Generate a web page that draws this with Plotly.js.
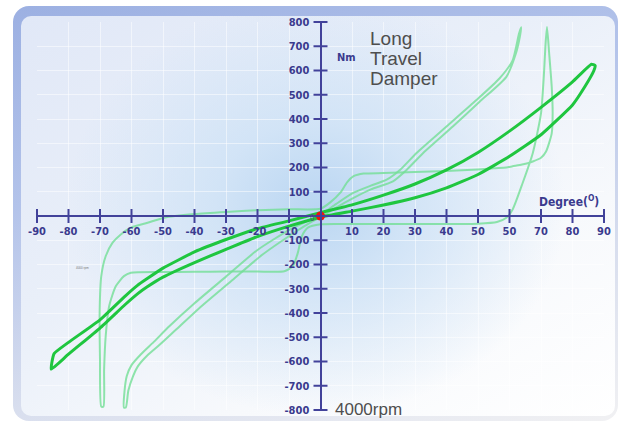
<!DOCTYPE html>
<html>
<head>
<meta charset="utf-8">
<script src="https://cdn.plot.ly/plotly-3.0.1.min.js"></script>
<style>
html,body{margin:0;padding:0;background:#ffffff;width:620px;height:423px;overflow:hidden;}
#frame{position:absolute;left:13px;top:6px;width:605px;height:415px;border-radius:16px;
 background:linear-gradient(165deg,#9cb0e2 0%,#b3c3ea 35%,#d8deee 70%,#f1f1f3 100%);}
#inner{position:absolute;left:21px;top:16px;width:594px;height:400px;border-radius:10px;
 background:
  radial-gradient(ellipse 250px 210px at 295px 190px, rgba(186,214,242,1) 0%, rgba(206,226,246,0.85) 40%, rgba(230,239,250,0) 100%),
  linear-gradient(150deg,#e1e8f7 0%,#e9eff9 40%,#f7f9fc 70%,#ffffff 100%);}
#chart{position:absolute;left:0;top:0;width:620px;height:423px;}
</style>
</head>
<body>
<div id="frame"></div>
<div id="inner"></div>
<div id="chart"></div>
<script>
// ---- tick labels ----
const xTickVals = [-90,-80,-70,-60,-50,-40,-30,-20,-10,10,20,30,40,50,60,70,80,90];
const xTickText = ['-90','-80','-70','-60','-50','-40','-30','-20','-10','10','20','30','40','50','50','70','80','90'];
const yTickVals = [-800,-700,-600,-500,-400,-300,-200,-100,100,200,300,400,500,600,700,800];
const yTickText = ['-800','-700','-600','-500','-400','-300','-200','-100','100','200','300','400','500','600','700','800'];

// ---- Curved Spring (hysteresis loop), degrees / Nm ----
const springDeg = [-85.5,-80,-70,-62,-58,-55,-50,-40,-30,-20,-10,0,10,20,30,40,50,60,70,80,84,86.8,87.2,86,80,70,60,50,40,30,20,10,0,-10,-20,-30,-40,-50,-55,-58,-62,-70,-80,-84.6,-85.5];
const springNm  = [-632,-570,-462,-365,-320,-292,-252,-192,-138,-85,-42,-5,20,45,75,116,171,246,335,458,535,600,620,626,553,448,350,262,190,132,86,46,14,-20,-52,-97,-148,-215,-258,-285,-330,-428,-521,-568,-632];

// ---- Long Travel Damper: steep loop ----
const damperDeg = [-62.4,-62.2,-61.5,-60,-57,-53,-48,-40,-30,-20,-10,-4,0,5,10.5,16,21,25.3,30.5,40,49.5,56.8,61,63,63.7,63.3,62,59,50.5,42,32.6,27.4,23,16,10.5,5,0,-3,-8.5,-18.5,-28.5,-38.5,-46,-51,-55,-58,-59.5,-61,-61.8,-62.4];
const damperNm  = [-790,-720,-660,-615,-570,-520,-455,-360,-250,-140,-58,-20,5,50,96,125,150,191,260,369,478,567,642,751,778,740,669,574,471,369,260,191,143,110,75,35,-5,-25,-70,-160,-270,-380,-470,-530,-575,-620,-660,-720,-790,-790];

// ---- Long Travel Damper: plateau loop with spikes ----
const plateauDeg = [-69.6,-70,-70.1,-69.6,-68.2,-66,-63.4,-60.2,-54.9,-49.6,-40,-30,-20,-10,0,3,6.3,8.5,10.5,13.7,20,30,40,50,55,59,61,64,67.4,70,71.6,73.4,73.7,73.4,72.6,71.9,71.4,71,70,67.4,64.2,61,59,56,50,40,30,20,10,0,-4,-5.9,-7.2,-8.8,-11.5,-20,-30,-40,-50,-60.2,-62.4,-65,-67.1,-68.2,-68.7,-68.9,-69.6];
const plateauNm  = [-786,-593,-386,-248,-166,-110,-76,-48,-28,-7,8,17,24,28,30,55,96,140,164,175,177,181,186,192,197,200,205,212,225,240,266,341,423,533,669,779,700,601,423,260,137,27,-7,-25,-32,-33,-33,-33,-33,-34,-48,-83,-152,-207,-228,-229,-229,-230,-231,-234,-248,-290,-372,-497,-634,-786,-786];

const originDeg = [0];
const originNm = [0];

const NAVY = '#42429a';
const LABEL = '#3a3a8e';
const GRAY = '#4e4e4e';
const tickFont = {family:'"Liberation Sans Narrow","DejaVu Sans Condensed","Arial Narrow",sans-serif', size:11, color:LABEL, weight:'bold'};
const textFam = '"Liberation Sans",Arial,sans-serif';
const thin = 'rgba(115,222,150,0.8)';

const traces = [
  {x:damperDeg, y:damperNm, mode:'lines', line:{color:thin, width:2, shape:'spline', smoothing:0.6}, hoverinfo:'skip'},
  {x:plateauDeg, y:plateauNm, mode:'lines', line:{color:thin, width:2, shape:'spline', smoothing:0.6}, hoverinfo:'skip'},
  {x:springDeg, y:springNm, mode:'lines', line:{color:'#1fc63f', width:3, shape:'spline', smoothing:0.4}, hoverinfo:'skip'},
  {x:xTickVals, y:xTickVals.map(()=>0), mode:'markers', marker:{symbol:'line-ns', size:10, line:{width:2,color:NAVY}}, cliponaxis:false, hoverinfo:'skip'},
  {x:yTickVals.map(()=>0), y:yTickVals, mode:'markers', marker:{symbol:'line-ew', size:10, line:{width:2,color:NAVY}}, cliponaxis:false, hoverinfo:'skip'},
  {x:originDeg, y:originNm, mode:'markers', marker:{color:'#ee1111', size:9, line:{width:0}}, cliponaxis:false, hoverinfo:'skip'}
];

const layout = {
  width:620, height:423,
  margin:{l:37, r:16, t:22, b:13, pad:0},
  paper_bgcolor:'rgba(0,0,0,0)', plot_bgcolor:'rgba(0,0,0,0)',
  showlegend:false,
  xaxis:{range:[-90,90], anchor:'free', position:0.5, showline:true, linecolor:NAVY, linewidth:2,
    tickmode:'array', tickvals:xTickVals, ticktext:xTickText, ticks:'', ticklabelstandoff:5,
    showgrid:true, gridcolor:'rgba(255,255,255,0.5)', gridwidth:1, zeroline:false, tickfont:tickFont, fixedrange:true},
  yaxis:{range:[-800,800], anchor:'free', position:0.5, side:'left', showline:true, linecolor:NAVY, linewidth:2,
    tickmode:'array', tickvals:yTickVals, ticktext:yTickText, ticks:'', ticklabelstandoff:8,
    showgrid:true, gridcolor:'rgba(255,255,255,0.5)', gridwidth:1, zeroline:false, tickfont:tickFont, fixedrange:true},
  annotations:[
    {x:15.1, y:733, xref:'x', yref:'y', text:'Long', showarrow:false, xanchor:'left', yanchor:'middle', font:{family:textFam, size:19, color:GRAY}},
    {x:15.1, y:651, xref:'x', yref:'y', text:'Travel', showarrow:false, xanchor:'left', yanchor:'middle', font:{family:textFam, size:19, color:GRAY}},
    {x:15.1, y:568, xref:'x', yref:'y', text:'Damper', showarrow:false, xanchor:'left', yanchor:'middle', font:{family:textFam, size:19, color:GRAY}},
    {x:91, y:326, xref:'x', yref:'y', text:'Curved', showarrow:false, xanchor:'right', yanchor:'middle', font:{family:textFam, size:19, color:GRAY}},
    {x:91, y:247, xref:'x', yref:'y', text:'Spring', showarrow:false, xanchor:'right', yanchor:'middle', font:{family:textFam, size:19, color:GRAY}},
    {x:8.1, y:652, xref:'x', yref:'y', text:'Nm', showarrow:false, xanchor:'center', yanchor:'middle', font:{family:tickFont.family, size:11, color:LABEL, weight:'bold'}},
    {x:78.9, y:62, xref:'x', yref:'y', text:'Degree(<sup>O</sup>)', showarrow:false, xanchor:'center', yanchor:'middle', font:{family:tickFont.family, size:12, color:LABEL, weight:'bold'}},
    {x:4, y:-796, xref:'x', yref:'y', text:'4000rpm', showarrow:false, xanchor:'left', yanchor:'middle', font:{family:textFam, size:17, color:GRAY}},
    {x:-2.7, y:-12, xref:'x', yref:'y', text:'0', showarrow:false, xanchor:'center', yanchor:'middle', font:{family:tickFont.family, size:8, color:'#555577'}},
    {x:-75.4, y:-214, xref:'x', yref:'y', text:'4000 rpm', showarrow:false, xanchor:'center', yanchor:'middle', font:{family:textFam, size:3, color:'#777777'}}
  ]
};

Plotly.newPlot('chart', traces, layout, {displayModeBar:false, staticPlot:true});
</script>
</body>
</html>
